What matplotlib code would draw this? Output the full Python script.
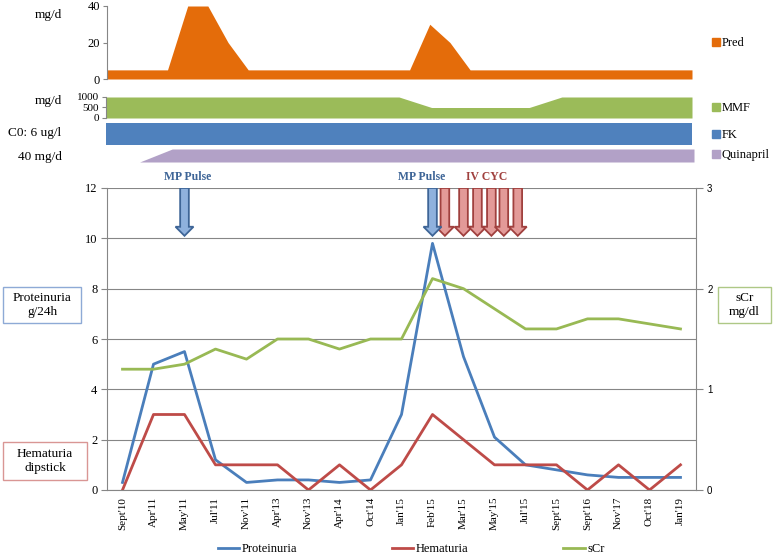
import matplotlib.pyplot as plt
from matplotlib.patches import Patch, Rectangle
from matplotlib.lines import Line2D

plt.rcParams["font.family"] = ["Liberation Serif", "DejaVu Serif"]

# %%
# Data
# -----------------------------------
dates = ["Sept'10", "Apr'11", "May'11", "Jul'11", "Nov'11", "Apr'13", "Nov'13",
         "Apr'14", "Oct'14", "Jan'15", "Feb'15", "Mar'15", "May'15", "Jul'15",
         "Sept'15", "Sept'16", "Nov'17", "Oct'18", "Jan'19"]
proteinuria = [0.3, 5.0, 5.5, 1.2, 0.3, 0.4, 0.4, 0.3, 0.4, 3.0, 9.8, 5.3, 2.1,
               1.0, 0.8, 0.6, 0.5, 0.5, 0.5]  # g/24h
hematuria = [0, 3, 3, 1, 1, 1, 0, 1, 0, 1, 3, 2, 1, 1, 1, 0, 1, 0, 1]  # dipstick
scr = [1.2, 1.2, 1.25, 1.4, 1.3, 1.5, 1.5, 1.4, 1.5, 1.5, 2.1, 2.0, 1.8, 1.6,
       1.6, 1.7, 1.7, 1.65, 1.6]  # mg/dl

# therapy panels
pred = [5, 5, 5, 5, 40, 40, 20, 5, 5, 5, 5, 5, 5, 5, 5, 5, 30, 20, 5, 5, 5, 5,
        5, 5, 5, 5, 5, 5, 5, 5]  # mg/d, own time grid
mmf = [1000, 1000, 1000, 1000, 1000, 1000, 1000, 1000, 1000, 1000, 500, 500,
       500, 500, 1000, 1000, 1000, 1000, 1000]  # mg/d
fk = [6, 6, 6, 6, 6, 6, 6, 6, 6, 6, 6, 6, 6, 6, 6, 6, 6, 6, 6]  # C0 ug/l
quinapril = [0, 0, 40, 40, 40, 40, 40, 40, 40, 40, 40, 40, 40, 40, 40, 40, 40,
             40, 40]  # mg/d

# treatment events (category index)
mp_pulse = [2, 10]
iv_cyc = [10.4, 11.0, 11.45, 11.9, 12.3, 12.75]

# colours
c_prot, c_hem, c_scr = "#4a7ebb", "#be4b48", "#98b954"
c_pred, c_mmf, c_fk, c_quin = "#e46c0a", "#9bbb59", "#4f81bd", "#b2a1c7"
grey = "#868686"

W, H = 774, 557
fig = plt.figure(figsize=(W / 100, H / 100), dpi=100)


def px_axes(l, t, r, b):
    return fig.add_axes([l / W, 1 - b / H, (r - l) / W, (b - t) / H])


def strip(ax, left=False):
    for s in ax.spines.values():
        s.set_visible(False)
    ax.set_xticks([])
    if left:
        ax.spines["left"].set_visible(True)
        ax.spines["left"].set_color(grey)
        ax.tick_params(axis="y", length=3, color=grey, pad=2)
    else:
        ax.set_yticks([])
    ax.patch.set_alpha(0)


# %%
# Pred panel
ax_p = px_axes(107, 6, 692, 79)
ax_p.fill_between(range(len(pred)), pred, color=c_pred, lw=0)
ax_p.set_xlim(0, len(pred) - 1)
ax_p.set_ylim(0, 40)
ax_p.set_yticks([0, 20, 40])
strip(ax_p, left=True)
ax_p.tick_params(axis="y", labelsize=9)

# MMF panel
ax_m = px_axes(106, 97, 692, 118)
ax_m.fill_between(range(len(mmf)), mmf, color=c_mmf, lw=0)
ax_m.set_xlim(0, len(mmf) - 1)
ax_m.set_ylim(0, 1000)
ax_m.set_yticks([0, 500, 1000])
strip(ax_m, left=True)
ax_m.tick_params(axis="y", labelsize=8, pad=2)

# FK panel
ax_f = px_axes(106, 123, 692, 145)
ax_f.fill_between(range(len(fk)), fk, color=c_fk, lw=0)
ax_f.set_xlim(0, len(fk) - 1)
ax_f.set_ylim(0, 6)
strip(ax_f)

# Quinapril panel
ax_q = px_axes(107, 149, 694, 162)
ax_q.fill_between(range(len(quinapril)), quinapril, color=c_quin, lw=0)
ax_q.set_xlim(0, len(quinapril) - 1)
ax_q.set_ylim(0, 40)
strip(ax_q)

fig.text(48 / W, 1 - 15 / H, "mg/d", ha="center", va="center", fontsize=9.5)
fig.text(48 / W, 1 - 101 / H, "mg/d", ha="center", va="center", fontsize=9.5)
fig.text(35 / W, 1 - 133 / H, "C0: 6 ug/l", ha="center", va="center", fontsize=9.5)
fig.text(40 / W, 1 - 157 / H, "40 mg/d", ha="center", va="center", fontsize=9.5)

for ax, lab, col, y in [(ax_p, "Pred", c_pred, 43), (ax_m, "MMF", c_mmf, 108),
                        (ax_f, "FK", c_fk, 135), (ax_q, "Quinapril", c_quin, 155)]:
    ax.legend(handles=[Patch(color=col)], labels=[lab], loc="center left",
              bbox_to_anchor=(712 / W, 1 - y / H), bbox_transform=fig.transFigure,
              frameon=False, fontsize=9, handlelength=0.6, handleheight=0.6,
              handletextpad=0.15, borderpad=0, borderaxespad=0)

# %%
# Main chart
ax = px_axes(107, 188, 696, 490)
ax2 = ax.twinx()
x = range(len(dates))
ax.plot(x, proteinuria, color=c_prot, lw=2, label="Proteinuria", zorder=3)
ax.plot(x, hematuria, color=c_hem, lw=2, label="Hematuria", zorder=3)
ax2.plot(x, scr, color=c_scr, lw=2, label="sCr", zorder=3)

ax.set_xlim(-0.5, len(dates) - 0.5)
ax.set_ylim(0, 12)
ax.set_yticks(range(0, 13, 2))
ax2.set_ylim(0, 3)
ax2.set_yticks([0, 1, 2, 3])
ax.yaxis.grid(True, color=grey, lw=0.8)
ax.set_axisbelow(True)
ax.set_xticks(list(x))
ax.set_xticklabels(dates, rotation=90, fontsize=8)
ax.tick_params(axis="x", length=0, pad=5)
ax.tick_params(axis="y", length=4, color=grey, labelsize=9, pad=3)
ax2.tick_params(axis="y", length=5, color=grey, pad=3, labelsize=7)
for t in ax2.get_yticklabels():
    t.set_fontfamily("Liberation Sans")
for a in (ax, ax2):
    for s in a.spines.values():
        s.set_visible(False)
ax.spines["left"].set_visible(True)
ax.spines["left"].set_color(grey)
ax2.spines["right"].set_visible(True)
ax2.spines["right"].set_color(grey)
ax.spines["bottom"].set_visible(True)
ax.spines["bottom"].set_color(grey)

# treatment arrows on an overlay so they sit above all lines
ax_arr = px_axes(107, 188, 696, 490)
ax_arr.set_xlim(ax.get_xlim())
ax_arr.set_ylim(0, 12)
ax_arr.axis("off")
for xc in iv_cyc:
    ax_arr.arrow(xc, 12, 0, -1.9, width=0.28, head_width=0.58, head_length=0.36,
                 length_includes_head=True, fc="#e39a98", ec="#a0403e", lw=1.3)
for xc in mp_pulse:
    ax_arr.arrow(xc, 12, 0, -1.9, width=0.28, head_width=0.58, head_length=0.36,
                 length_includes_head=True, fc="#8fb1dd", ec="#3e6597", lw=1.3)

fig.text(188 / W, 1 - 177 / H, "MP Pulse", ha="center", va="center",
         fontsize=8.5, fontweight="bold", color="#3e6597")
fig.text(422 / W, 1 - 177 / H, "MP Pulse", ha="center", va="center",
         fontsize=8.5, fontweight="bold", color="#3e6597")
fig.text(487 / W, 1 - 177 / H, "IV CYC", ha="center", va="center",
         fontsize=8.5, fontweight="bold", color="#a0403e")

# axis title boxes
for (l, t, r, b), txt, ec in [((3, 287, 81, 323), "Proteinuria\ng/24h", "#8eaad6"),
                              ((718, 287, 771, 323), "sCr\nmg/dl", "#aec886"),
                              ((3, 442, 87, 480), "Hematuria\ndipstick", "#d99694")]:
    fig.patches.append(Rectangle((l / W, 1 - b / H), (r - l) / W, (b - t) / H,
                                 transform=fig.transFigure, fill=False, ec=ec, lw=1))
    fig.text((l + r) / 2 / W, 1 - (t + b) / 2 / H, txt, ha="center", va="center",
             fontsize=9.5, linespacing=1.3)

handles = [Line2D([], [], color=c_prot, lw=2), Line2D([], [], color=c_hem, lw=2),
           Line2D([], [], color=c_scr, lw=2)]
fig.legend(handles, ["Proteinuria", "Hematuria", "sCr"], loc="center",
           bbox_to_anchor=(411 / W, 1 - 549 / H), ncol=3, frameon=False,
           fontsize=9, handlelength=1.7, handletextpad=0.2, columnspacing=7.6)

fig.savefig("out.png", dpi=100)
